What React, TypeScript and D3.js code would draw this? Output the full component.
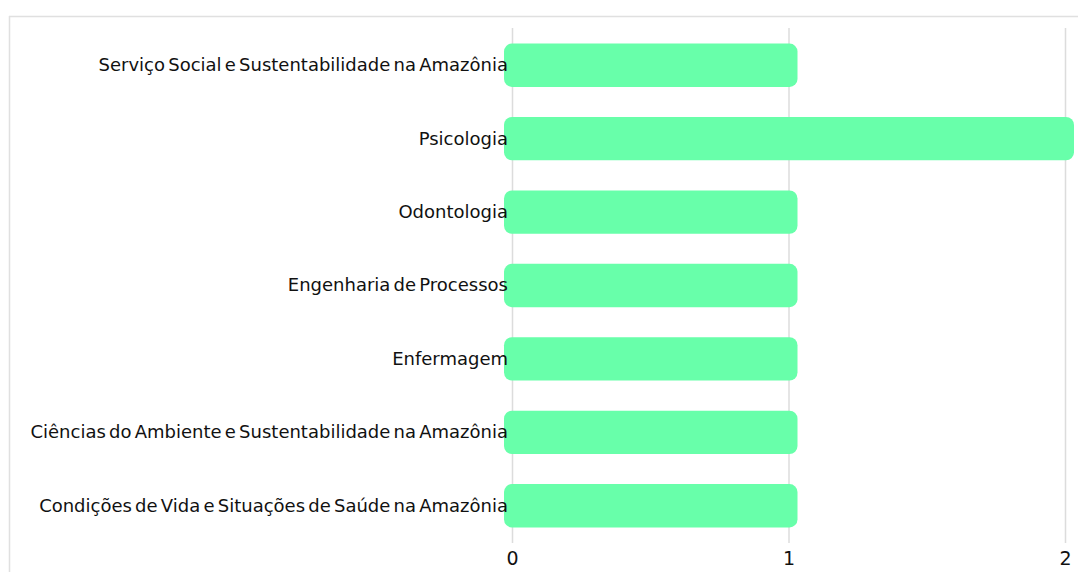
import * as d3 from 'd3';
import { useRef, useEffect } from 'react';

const categories = [
    'Serviço Social e Sustentabilidade na Amazônia',
    'Psicologia',
    'Odontologia',
    'Engenharia de Processos',
    'Enfermagem',
    'Ciências do Ambiente e Sustentabilidade na Amazônia',
    'Condições de Vida e Situações de Saúde na Amazônia',
];
const counts = [1, 2, 1, 1, 1, 1, 1];
const tickValues = [0, 1, 2];

const W = 1078;
const H = 572;

const App = () => {
    const svgRef = useRef<SVGSVGElement | null>(null);

    useEffect(() => {
        const svg = d3.select(svgRef.current);
        svg.selectAll('*').remove();

        const data = categories.map((c, i) => ({ name: c, value: counts[i] }));

        const xScale = d3.scaleLinear().domain([0, 2]).range([512.5, 1065.5]);
        const yScale = d3.scaleBand()
            .domain(categories)
            .range([28.5, 542.5])
            .paddingInner(0.41)
            .paddingOuter(0.205);

        // frame
        svg.append('line')
            .attr('x1', 9).attr('x2', W)
            .attr('y1', 16.5).attr('y2', 16.5)
            .attr('stroke', '#e0e0e0').attr('stroke-width', 1.5);
        svg.append('line')
            .attr('x1', 9.5).attr('x2', 9.5)
            .attr('y1', 16).attr('y2', H)
            .attr('stroke', '#e0e0e0').attr('stroke-width', 1.5);

        // grid
        svg.append('g')
            .selectAll('line')
            .data(tickValues)
            .enter()
            .append('line')
            .attr('x1', d => xScale(d)).attr('x2', d => xScale(d))
            .attr('y1', 28).attr('y2', 543)
            .attr('stroke', '#dcdcdc').attr('stroke-width', 1.5);

        // bars (rounded, sticking out a bit past the value)
        svg.append('g')
            .selectAll('rect')
            .data(data)
            .enter()
            .append('rect')
            .attr('x', xScale(0) - 8.5)
            .attr('y', d => yScale(d.name)!)
            .attr('width', d => xScale(d.value) - xScale(0) + 17)
            .attr('height', yScale.bandwidth())
            .attr('rx', 8).attr('ry', 8)
            .attr('fill', '#68ffaa');

        // category labels
        svg.append('g')
            .selectAll('text')
            .data(data)
            .enter()
            .append('text')
            .attr('x', 508)
            .attr('y', d => yScale(d.name)! + yScale.bandwidth() / 2)
            .attr('dy', '0.33em')
            .attr('text-anchor', 'end')
            .attr('font-family', 'DejaVu Sans')
            .attr('font-size', 18)
            .attr('word-spacing', -2.5)
            .attr('fill', '#111')
            .text(d => d.name);

        // x tick labels
        svg.append('g')
            .selectAll('text')
            .data(tickValues)
            .enter()
            .append('text')
            .attr('x', d => xScale(d))
            .attr('y', 565)
            .attr('text-anchor', 'middle')
            .attr('font-family', 'DejaVu Sans')
            .attr('font-size', 19)
            .attr('fill', '#111')
            .text(d => d);
    }, []);

    return (
        <svg ref={svgRef} width={W} height={H}
            style={{ position: 'absolute', left: 0, top: 0, display: 'block', background: '#fff' }} />
    );
};

export default App;
